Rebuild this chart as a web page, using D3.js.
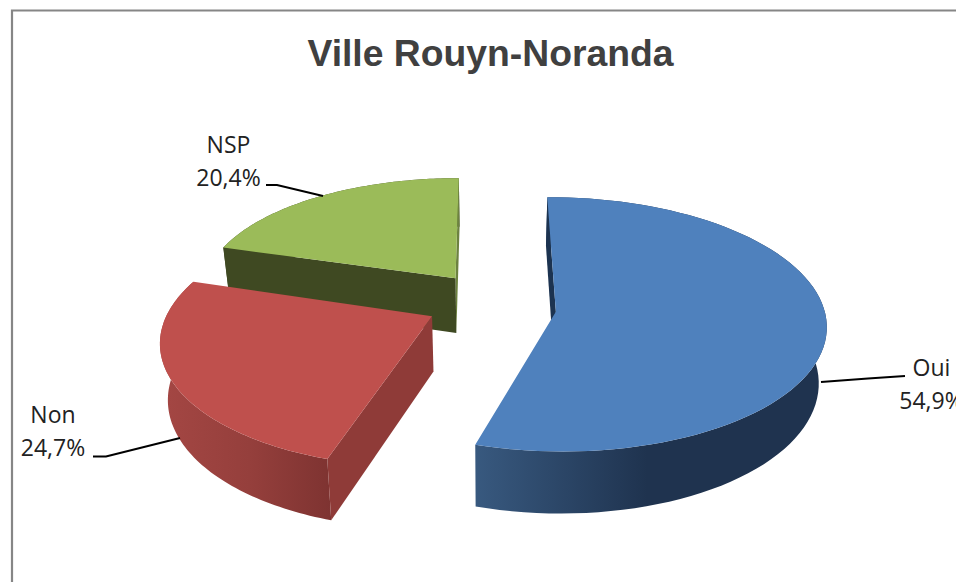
<!DOCTYPE html>
<html><head><meta charset="utf-8">
<script src="https://cdn.jsdelivr.net/npm/d3@7"></script>
<style>html,body{margin:0;padding:0;background:#fff;overflow:hidden}svg{display:block}</style>
</head><body><svg id="c" width="956" height="582"></svg>
<script>
const title = "Ville Rouyn-Noranda";
const categories = ["Oui", "Non", "NSP"];
const values = [54.9, 24.7, 20.4];
const topColors = ["#4f81bd", "#bf504d", "#9bbb59"];
const sideColors = ["#1c3350", "#8f3b38", "#3f4922"];
const rimGradients = [["#38597f", "#1f334f", "#1f334f"], ["#a34643", "#953f3c", "#7e3331"], ["#3f4922", "#3f4922", "#3f4922"]];
// layout of each exploded slice in the tilted pie plane
const explode = [[0.24, 0.086], [-0.215, 0.12], [-0.135, -0.185]];
const radiusXY = [[0.995, 1], [0.97, 0.98], [0.95, 0.92]];
const perspective = [0.1, 0.19, 0.1];
const twistDeg = [0.5, 1, 1];
const depthScale = [0.98, 0.97, 1];
const labelX = [931.5, 53, 228.5];
const labelBaseline = [376, 423, 153];
const leaders = [
  [[821, 382], [868, 378.5], [905, 376]],
  [[180, 438], [106, 456.5], [93, 456.5]],
  [[323, 196], [277, 185], [266, 185]]
];

const W = 956, H = 582;
const cx = 491, cy = 301, rx = 268, ky = 125, depth = 56, conv = 0.024;
const startAngle = -1 * Math.PI / 180;

const svg = d3.select("#c");
const defs = svg.append("defs");
svg.append("rect").attr("width", W).attr("height", H).attr("fill", "#fff");
svg.append("path").attr("d", `M${W + 5},10.5H12V${H + 5}`).attr("fill", "none").attr("stroke", "#868686").attr("stroke-width", 2.2);

svg.append("text").attr("x", 490.5).attr("y", 66).attr("text-anchor", "middle")
  .attr("font-family", "Liberation Sans").attr("font-weight", "bold").attr("font-size", 37.3)
  .attr("fill", "#404040").text(title);

const pie = d3.pie().sort(null).value(d => d).startAngle(startAngle).endAngle(startAngle + 2 * Math.PI);
const arcs = pie(values);

function project(i, a, r, z) {
  const ex = explode[i];
  const X = ex[0] + r * radiusXY[i][0] * Math.sin(a), Y = ex[1] - r * radiusXY[i][1] * Math.cos(a);
  const s = 1 + perspective[i] * Y;
  const sx = cx + rx * X * s, sy = cy + ky * Y * s;
  return [cx + (sx - cx) * (1 - conv * z), sy + z * depth * depthScale[i] * (1 + 0.12 * Y)];
}
const line = d3.line();
const sample = (a0, a1) => d3.range(0, 81).map(i => a0 + (a1 - a0) * i / 80);

// back to front
[2, 1, 0].forEach(i => {
  const d = arcs[i], tw = twistDeg[i] * Math.PI / 180;
  const a0 = d.startAngle + tw, a1 = d.endAngle + tw;
  const g = svg.append("g").attr("class", "slice");
  const angs = sample(a0, a1);
  const top = angs.map(a => project(i, a, 1, 0));
  const apex = project(i, 0, 0, 0), apexB = project(i, 0, 0, 1);
  const bottom = angs.map(a => project(i, a, 1, 1));
  const xs = bottom.map(p => p[0]);
  const id = "rim" + i;
  const grad = defs.append("linearGradient").attr("id", id).attr("gradientUnits", "userSpaceOnUse")
    .attr("x1", d3.min(xs)).attr("x2", d3.max(xs)).attr("y1", 0).attr("y2", 0);
  rimGradients[i].forEach((c, k) => grad.append("stop").attr("offset", [0, 0.5, 1][k]).attr("stop-color", c));
  g.append("path").attr("d", line(top.concat(bottom.slice().reverse())) + "Z").attr("fill", `url(#${id})`);
  const radial = (a, fill) => g.append("path")
    .attr("d", line([apex, project(i, a, 1, 0), project(i, a, 1, 1), apexB]) + "Z").attr("fill", fill);
  if (i === 2) radial(a1, "#6d8240");
  if (i === 0) radial(a0, sideColors[i]);
  if (i === 1) radial(a0, sideColors[i]);
  if (i === 2) radial(a0, sideColors[i]);
  g.append("path").attr("d", line([apex].concat(top)) + "Z").attr("fill", topColors[i]);
});

leaders.forEach(p => svg.append("path").attr("d", line(p)).attr("fill", "none").attr("stroke", "#000").attr("stroke-width", 2));

categories.forEach((c, i) => {
  const t = svg.append("text").attr("text-anchor", "middle")
    .attr("font-family", "Open Sans").attr("font-size", 23).attr("fill", "#222");
  t.append("tspan").attr("x", labelX[i]).attr("y", labelBaseline[i]).text(c);
  t.append("tspan").attr("x", labelX[i]).attr("y", labelBaseline[i] + 32.5).text(values[i].toFixed(1).replace(".", ",") + "%");
});
</script></body></html>
